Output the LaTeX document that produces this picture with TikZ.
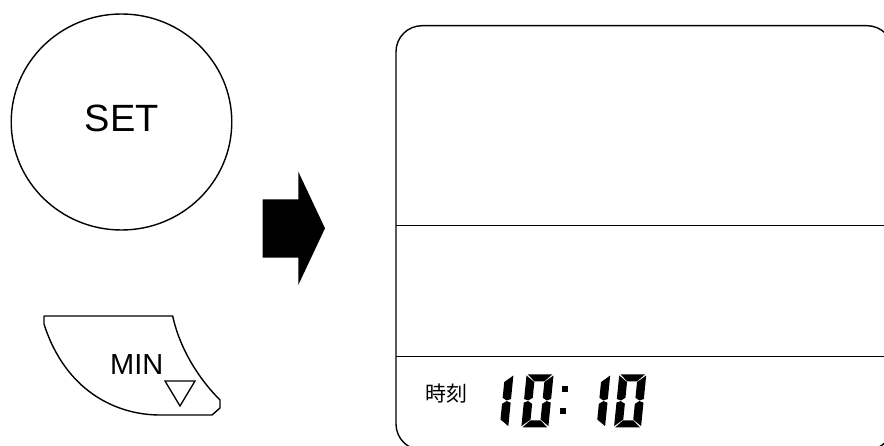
\documentclass[tikz,border=0pt]{standalone}
\usepackage{fontspec}
\setmainfont{Liberation Sans}
\newfontfamily\cjkfont{Noto Sans CJK JP}
\usetikzlibrary{shapes.geometric}
\tikzset{
  outline/.style={draw=black, line width=1.4pt, line join=round},
  seg/.style={fill=black, draw=none},
  pics/lcdzero/.style={code={
    \begin{scope}[y=1pt]
      \fill[seg] (1.2,53) -- (25.8,53) -- (18.5,46) -- (8.5,46) -- cycle;
      \fill[seg] (27,51.8) -- (27,28.3) -- (22.8,26.8) -- (18.5,29.5) -- (18.5,45.2) -- cycle;
      \fill[seg] (27,1.2) -- (27,24.7) -- (22.8,26.2) -- (18.5,23.5) -- (18.5,7.8) -- cycle;
      \fill[seg] (0,51.8) -- (0,28.3) -- (4.2,26.8) -- (8.5,29.5) -- (8.5,45.2) -- cycle;
      \fill[seg] (0,1.2) -- (0,24.7) -- (4.2,26.2) -- (8.5,23.5) -- (8.5,7.8) -- cycle;
      \fill[seg] (1.2,0) -- (25.8,0) -- (18.5,7) -- (8.5,7) -- cycle;
    \end{scope}
  }},
  pics/lcdone/.style={code={
    \begin{scope}[y=1pt]
      \fill[seg] (27,51.8) -- (27,28.3) -- (22.8,26.8) -- (18.5,29.5) -- (18.5,45.2) -- cycle;
      \fill[seg] (27,1.2) -- (27,24.7) -- (22.8,26.2) -- (18.5,23.5) -- (18.5,7.8) -- cycle;
    \end{scope}
  }}
}
\begin{document}
\begin{tikzpicture}[x=1pt, y=-1pt]
  \useasboundingbox (0,0) rectangle (884,446);
  \clip (0,0) rectangle (884,446);

  % SET button
  \node[ellipse, outline, minimum width=220.6pt, minimum height=216pt, inner sep=0pt] (setbtn) at (121.5,122) {};
  \node[font=\fontsize{38}{40}\selectfont, inner sep=0pt, anchor=base] (settext) at (121.7,131.5) {SET};

  % MIN button
  \draw[outline] (44,316) coordinate (mintl) -- (172.7,316)
     .. controls (180,350) and (200,380) .. (220,400)
     -- (220,408) -- (212,415) -- (160,415)
     .. controls (115,415) and (65,390) .. (44,324) -- cycle;
  \node[font=\fontsize{29}{30}\selectfont, inner sep=0pt, anchor=base] (mintext) at (136.7,374) {MIN};
  \draw[line width=1.3pt, line join=miter] (165,381) -- (195,381) -- (180,406) -- cycle;

  % Arrow
  \fill[black] (262.7,199.3) -- (298.3,199.3) -- (298.3,171.7) -- (325,228.3)
     -- (298.3,285) -- (298.3,257.7) -- (262.7,257.7) -- cycle;

  % Display
  \draw[outline, rounded corners=26pt] (396,25.7) rectangle (893,450);
  \draw[outline] (396,225.7) -- (893,225.7);
  \draw[outline] (396,356.3) -- (893,356.3);

  \node[font=\cjkfont\fontsize{21}{22}\selectfont, inner sep=0pt] (timelabel) at (446.7,393.8) {時刻};

  % LCD digits 10:10
  \pic[xslant=0.1] at (481.2,427.3) {lcdone};
  \pic[xslant=0.1] at (521.3,427.3) {lcdzero};
  \fill (562,386.5) rectangle (568,392);
  \fill (560,408) rectangle (566,413.5);
  \pic[xslant=0.1] at (578,427.3) {lcdone};
  \pic[xslant=0.1] at (614,427.3) {lcdzero};
\end{tikzpicture}
\end{document}
